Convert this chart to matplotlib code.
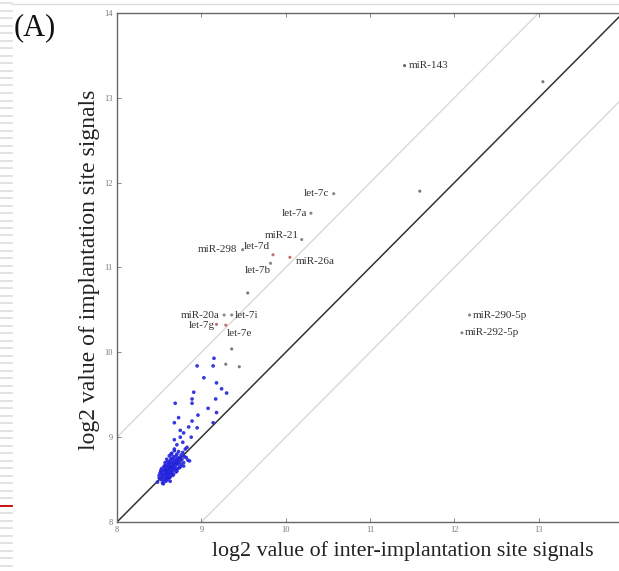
import matplotlib
matplotlib.use("Agg")
import matplotlib.pyplot as plt
from matplotlib.lines import Line2D

plt.rcParams['font.family'] = ['Liberation Serif', 'DejaVu Serif']

# labelled miRNAs
lab_names = ["miR-143", "let-7c", "let-7a", "miR-21", "miR-298", "let-7d", "miR-26a",
             "let-7b", "miR-20a", "let-7i", "let-7g", "let-7e", "miR-290-5p", "miR-292-5p"]
lab_x = [11.41, 10.57, 10.30, 10.19, 9.49, 9.85, 10.05, 9.82, 9.27, 9.36, 9.18, 9.29, 12.18, 12.09]
lab_y = [13.38, 11.87, 11.64, 11.33, 11.21, 11.15, 11.12, 11.05, 10.44, 10.44, 10.33, 10.32, 10.44, 10.23]
lab_color = ["#666666", "#888888", "#888888", "#888888", "#888888", "#c07070", "#c07070",
             "#888888", "#888888", "#888888", "#c07070", "#c07070", "#888888", "#888888"]

# other unlabelled high points
hi_x = [13.05, 11.59, 9.55, 9.36, 9.29, 9.45]
hi_y = [13.19, 11.90, 10.70, 10.04, 9.86, 9.83]

# blue points (the bulk of the miRNAs)
blue_x = [9.15, 9.14, 8.95, 9.03, 9.18, 9.24, 9.30, 8.91, 8.89, 8.89, 9.17, 8.69, 9.08, 9.18,
          8.96, 8.73, 8.89, 8.68, 9.14, 8.85, 8.95, 8.75, 8.79, 8.75, 8.88, 8.68, 8.78, 8.71, 8.83,
          8.48, 8.50, 8.51, 8.52, 8.53, 8.53, 8.54, 8.55, 8.55, 8.56, 8.56, 8.57, 8.57, 8.57,
          8.58, 8.58, 8.58, 8.59, 8.59, 8.59, 8.60, 8.60, 8.60, 8.60, 8.61, 8.61, 8.61, 8.62,
          8.62, 8.62, 8.62, 8.63, 8.63, 8.63, 8.63, 8.64, 8.64, 8.64, 8.65, 8.65, 8.65, 8.65,
          8.66, 8.66, 8.66, 8.67, 8.67, 8.67, 8.68, 8.68, 8.68, 8.69, 8.69, 8.70, 8.70, 8.70,
          8.71, 8.71, 8.72, 8.72, 8.73, 8.73, 8.74, 8.75, 8.76, 8.77, 8.78, 8.80, 8.81, 8.55,
          8.58, 8.62, 8.66, 8.70, 8.74, 8.53, 8.57, 8.61, 8.64, 8.68, 8.72, 8.76, 8.84, 8.79,
          8.50, 8.52, 8.54, 8.56, 8.59, 8.63, 8.67, 8.71, 8.75, 8.79, 8.82, 8.86]
blue_y = [9.93, 9.84, 9.84, 9.70, 9.64, 9.57, 9.52, 9.53, 9.45, 9.40, 9.45, 9.40, 9.34, 9.29,
          9.26, 9.23, 9.19, 9.17, 9.17, 9.12, 9.11, 9.08, 9.05, 9.00, 9.00, 8.97, 8.94, 8.91, 8.88,
          8.47, 8.52, 8.58, 8.50, 8.55, 8.63, 8.52, 8.49, 8.60, 8.56, 8.66, 8.53, 8.62, 8.70,
          8.51, 8.58, 8.67, 8.55, 8.62, 8.74, 8.50, 8.57, 8.64, 8.71, 8.53, 8.60, 8.68, 8.56,
          8.63, 8.70, 8.78, 8.58, 8.65, 8.72, 8.53, 8.60, 8.67, 8.75, 8.57, 8.63, 8.70, 8.81,
          8.60, 8.66, 8.74, 8.62, 8.69, 8.77, 8.64, 8.71, 8.84, 8.66, 8.74, 8.62, 8.69, 8.78,
          8.72, 8.80, 8.68, 8.75, 8.70, 8.83, 8.76, 8.72, 8.79, 8.74, 8.82, 8.77, 8.86, 8.45,
          8.48, 8.52, 8.55, 8.59, 8.64, 8.58, 8.61, 8.66, 8.80, 8.86, 8.63, 8.68, 8.73, 8.66,
          8.55, 8.61, 8.46, 8.65, 8.52, 8.48, 8.56, 8.60, 8.65, 8.70, 8.76, 8.72]

axis_min, axis_max = 8, 14
ticks = [8, 9, 10, 11, 12, 13, 14]
xtick_labels = ["8", "9", "10", "11", "12", "13", ""]
ytick_labels = ["8", "9", "10", "11", "12", "13", "14"]

fig = plt.figure(figsize=(6.19, 5.71), dpi=100)
ax = fig.add_axes([117/619, 49/571, 506/619, 509/571])

# reference lines
ref = [axis_min, axis_max]
ax.plot(ref, ref, color="#333333", lw=1.1, zorder=2)
ax.plot([axis_min, axis_max - 1], [axis_min + 1, axis_max], color="#d8d8d8", lw=1.0, zorder=1)
ax.plot([axis_min + 1, axis_max], [axis_min, axis_max - 1], color="#d8d8d8", lw=1.0, zorder=1)

ax.scatter(blue_x, blue_y, s=7, color="#2222dd", edgecolors="none", alpha=0.9, zorder=3)
ax.scatter(hi_x, hi_y, s=5, color="#777777", edgecolors="none", zorder=3)
ax.scatter(lab_x, lab_y, s=5, color=lab_color, edgecolors="none", zorder=3)

# label offsets in points (dx, dy, ha)
offs = {
    "miR-143": (3, 0, "left"), "let-7c": (-3, 0, "right"), "let-7a": (-3, 0, "right"),
    "miR-21": (-2, 3, "right"), "miR-298": (-4, 0, "right"), "let-7d": (-2, 6, "right"),
    "miR-26a": (4, -3, "left"), "let-7b": (0, -5, "right"), "miR-20a": (-3, 0, "right"),
    "let-7i": (2, 0, "left"), "let-7g": (-1, -1, "right"), "let-7e": (1, -6, "left"),
    "miR-290-5p": (2, 0, "left"), "miR-292-5p": (2, 0, "left"),
}
for n, x, y in zip(lab_names, lab_x, lab_y):
    dx, dy, ha = offs[n]
    ax.annotate(n, (x, y), xytext=(dx, dy), textcoords="offset points",
                ha=ha, va="center", fontsize=8, color="#333333")

ax.set_xlim(axis_min, axis_max)
ax.set_ylim(axis_min, axis_max)
ax.set_xticks(ticks)
ax.set_yticks(ticks)
ax.set_xticklabels(xtick_labels)
ax.set_yticklabels(ytick_labels)
ax.tick_params(direction="in", length=3, width=0.6, colors="#777777", labelsize=6,
               top=True, right=True, pad=3)
for s in ax.spines.values():
    s.set_color("#666666")
    s.set_linewidth(1.0)

ax.set_xlabel("log2 value of inter-implantation site signals", fontsize=15.8,
              color="#222222")
ax.set_ylabel("log2 value of implantation site signals", fontsize=17,
              color="#222222")
ax.xaxis.set_label_coords(0.565, -0.037)
ax.yaxis.set_label_coords(-0.034, 0.495)

fig.text(14/619, 1 - 28/571, "(A)", fontsize=22, va="center", ha="left", color="#111111")

# slide decorations
for i in range(76):
    yy = 1 - (3 + i * 7.5) / 571
    fig.add_artist(Line2D([0, 12/619], [yy, yy], color="#dddddd", lw=1.2,
                          transform=fig.transFigure))
fig.add_artist(Line2D([0, 12/619], [1 - 506/571, 1 - 506/571], color="#cc0000", lw=1.3,
                      transform=fig.transFigure))
fig.add_artist(Line2D([12/619, 1], [1 - 4/571, 1 - 4/571], color="#dddddd", lw=1.0,
                      transform=fig.transFigure))

fig.savefig("out.png", dpi=100)
